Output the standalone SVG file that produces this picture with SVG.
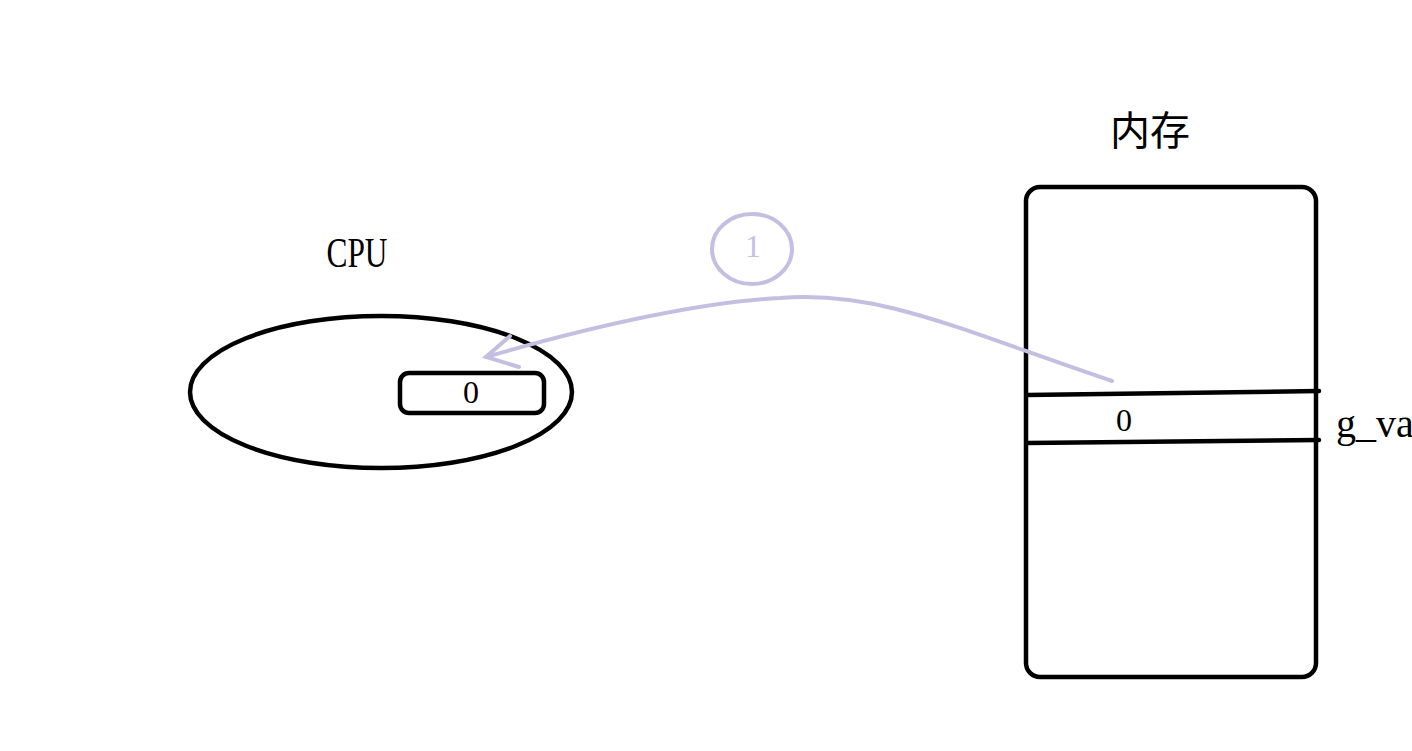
<svg xmlns="http://www.w3.org/2000/svg" width="1412" height="751" viewBox="0 0 1412 751">
<style>
.blk{fill:none;stroke:#000;stroke-width:4.5;stroke-linecap:round}
.pur{fill:none;stroke:#c4bfe1;stroke-width:4;stroke-linecap:round}
.t{font-family:"Liberation Serif","Noto Sans CJK SC",serif;fill:#000}
</style>
<rect width="1412" height="751" fill="#fff"/>
<g id="cpu">
<text class="t" x="357" y="267" font-size="42" text-anchor="middle" textLength="61" lengthAdjust="spacingAndGlyphs">CPU</text>
<ellipse class="blk" cx="381" cy="392" rx="191" ry="76"/>
</g>
<g id="register">
<rect class="blk" x="400" y="373" width="144" height="40" rx="9"/>
<text class="t" x="471" y="403" font-size="32" text-anchor="middle">0</text>
</g>
<g id="memory">
<text class="t" x="1150" y="145" font-size="40" text-anchor="middle" font-family="'Noto Sans CJK SC',sans-serif">内存</text>
<rect class="blk" x="1026" y="187" width="290" height="490" rx="14"/>
</g>
<g id="g_var">
<line class="blk" x1="1027" y1="395" x2="1319" y2="391"/>
<line class="blk" x1="1027" y1="443" x2="1319" y2="440"/>
<text class="t" x="1124" y="431" font-size="32" text-anchor="middle">0</text>
<text class="t" x="1336" y="437" font-size="40">g_va</text>
</g>
<g id="label1">
<ellipse class="pur" cx="752" cy="249" rx="40" ry="35"/>
<text x="753" y="257" font-size="32" text-anchor="middle" font-family="'Liberation Serif',serif" fill="#c4bfe1">1</text>
</g>
<g id="connectors">
<path class="pur" d="M1112,381 C960,330 880,290 780,298 C690,303 580,330 486,357"/>
<path class="pur" d="M510,336 L486,357 L519,367"/>
</g>
</svg>
